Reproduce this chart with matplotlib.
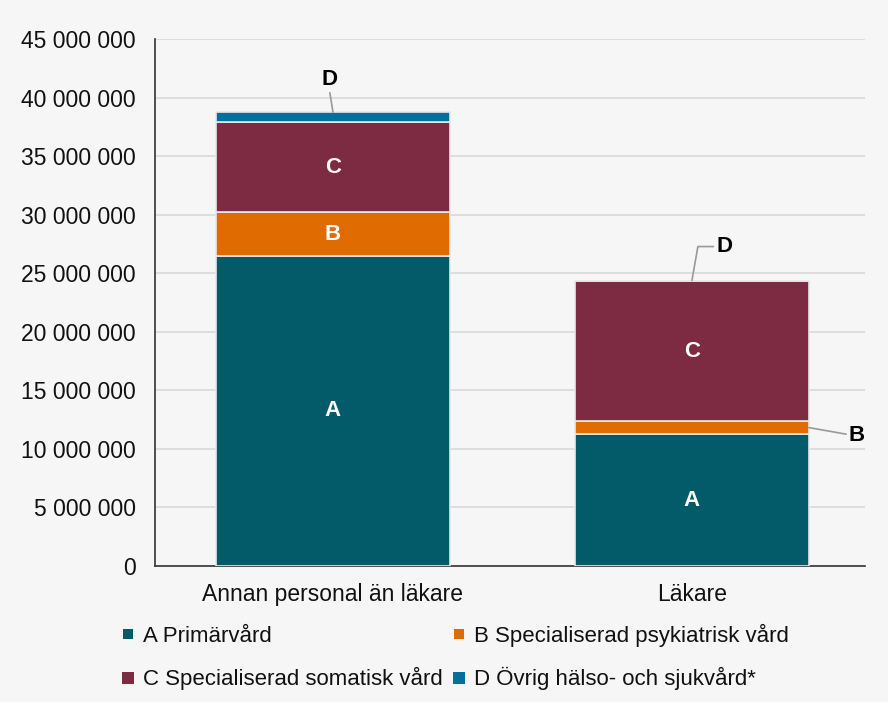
import matplotlib.pyplot as plt
from matplotlib.lines import Line2D
import numpy as np

plt.rcParams['font.family'] = ['Liberation Sans', 'DejaVu Sans']

categories = ["Annan personal än läkare", "Läkare"]
series_names = ["A Primärvård", "B Specialiserad psykiatrisk vård",
                "C Specialiserad somatisk vård", "D Övrig hälso- och sjukvård*"]
short_names = ["A", "B", "C", "D"]
a_vals = [26500000, 11270000]
b_vals = [3700000, 1100000]
c_vals = [7700000, 11950000]
d_vals = [850000, 60000]
colors = ["#035a69", "#e06b00", "#7c2b42", "#0070a0"]

bg = "#f6f6f6"
fig = plt.figure(figsize=(8.88, 7.02), dpi=100, facecolor=bg)
ax = fig.add_axes([0.1745, 0.1937, 0.7995, 0.7507], facecolor=bg)

x = np.arange(len(categories))
data = [a_vals, b_vals, c_vals, d_vals]
bottom = np.zeros(len(categories))
bars = []
for vals, name, col in zip(data, series_names, colors):
    ax.bar(x, vals, 0.652, bottom=bottom, color=col,
           edgecolor="#e8e8e8", linewidth=1.2, zorder=3)
    bars.append((np.array(vals), bottom.copy()))
    bottom += np.array(vals)

# labels inside big segments
for (vals, bot), lab in zip(bars, short_names):
    for i in range(len(x)):
        if vals[i] > 2500000:
            ax.text(x[i], bot[i] + vals[i] / 2, lab, ha="center", va="center",
                    color="white", fontsize=16, fontweight="bold", zorder=4)

line_kw = dict(arrowstyle="-", color="#999999", lw=1.2, shrinkA=0, shrinkB=0)
# D on first bar
top0 = bottom[0]
ax.annotate("D", xy=(x[0], top0), xytext=(x[0] - 0.01, top0 + 2800000),
            ha="center", va="center", fontsize=16, fontweight="bold",
            arrowprops=dict(**line_kw, relpos=(0.5, 0)))
# D on second bar
top1 = bottom[1]
ax.annotate("D", xy=(x[1], top1), xytext=(x[1] + 0.09, top1 + 2900000),
            ha="center", va="center", fontsize=16, fontweight="bold",
            arrowprops=dict(**line_kw, connectionstyle="angle,angleA=180,angleB=80,rad=0",
                            relpos=(0, 0.5)))
# B on second bar
bmid = a_vals[1] + b_vals[1] / 2
ax.annotate("B", xy=(x[1] + 0.326, bmid), xytext=(x[1] + 0.46, bmid - 700000),
            ha="center", va="center", fontsize=16, fontweight="bold",
            arrowprops=dict(**line_kw, connectionstyle="angle,angleA=0,angleB=170,rad=0",
                            relpos=(0, 0.5)))

ax.set_xlim(-0.496, 1.482)
ax.set_ylim(0, 45000000)
ax.set_yticks(np.arange(0, 45000001, 5000000))
ax.yaxis.set_major_formatter(plt.FuncFormatter(lambda v, p: f"{int(v):,}".replace(",", " ")))
ax.set_xticks(x)
ax.set_xticklabels(categories)
ax.tick_params(axis="both", labelsize=16.5, length=0, colors="#111111")
ax.tick_params(axis="x", pad=12)
ax.tick_params(axis="y", pad=14)
ax.grid(axis="y", color="#d9d9d9", lw=1.2, zorder=0)
for s in ["top", "right"]:
    ax.spines[s].set_visible(False)
for s in ["left", "bottom"]:
    ax.spines[s].set_color("#333333")
    ax.spines[s].set_linewidth(1.2)

# legend filled row by row: A B / C D
msizes = [6.5, 6.5, 8.5, 8.5]
handles = [Line2D([], [], ls="none", marker="s", markersize=m, color=c, markeredgewidth=0)
           for c, m in zip(colors, msizes)]
order = [0, 2, 1, 3]
leg = fig.legend([handles[i] for i in order], [series_names[i] for i in order],
                 loc="lower left", bbox_to_anchor=(0.112, -0.012), ncol=2, frameon=False,
                 fontsize=16, handlelength=0.75, handletextpad=0.3,
                 columnspacing=0.35, labelspacing=0.92)
for t in leg.get_texts():
    t.set_color("#111111")

fig.savefig("out.png", dpi=100, facecolor=bg)
